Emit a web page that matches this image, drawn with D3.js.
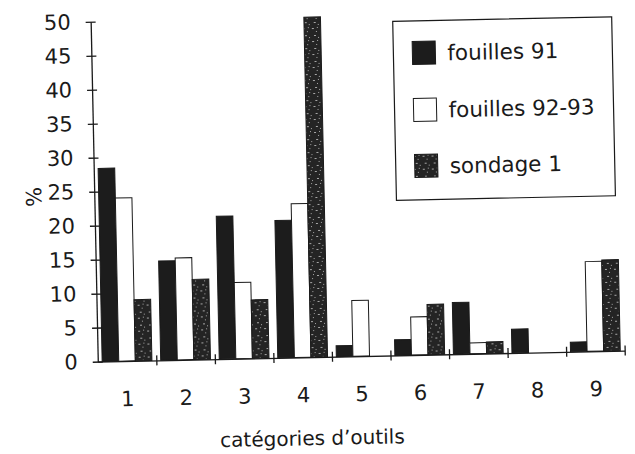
<!DOCTYPE html>
<html lang="fr">
  <head>
    <meta charset="UTF-8" />
    <script src="https://d3js.org/d3.v7.min.js"></script>
    <title>Catégories d'outils</title>
    <style>
      body { margin: 0; background: #fff; }
      svg text { font-family: "DejaVu Sans", sans-serif; fill: #1a1a1a; }
      .axis path, .axis line { stroke: #1a1a1a; stroke-width: 1.3; }
    </style>
  </head>
  <body>
    <svg width="635" height="454"></svg>
    <script>
      // données (%)
      const categories = ["1", "2", "3", "4", "5", "6", "7", "8", "9"];
      const series = ["fouilles 91", "fouilles 92-93", "sondage 1"];
      const fouilles91 = [28.4, 14.6, 21, 20.2, 1.6, 2.3, 7.6, 3.5, 1.4];
      const fouilles9293 = [24, 15, 11.2, 22.6, 8.2, 5.6, 1.6, 0, 13.2];
      const sondage1 = [9, 11.8, 8.6, 50, 0, 7.4, 1.7, 0, 13.4];
      const yTicks = [0, 5, 10, 15, 20, 25, 30, 35, 40, 45, 50];

      const values = [fouilles91, fouilles9293, sondage1];
      const fills = ["#1c1c1c", "#fff", "url(#speckle)"];

      const svg = d3.select("svg");

      // motif moucheté pour "sondage 1"
      const pat = svg.append("defs").append("pattern")
        .attr("id", "speckle")
        .attr("patternUnits", "userSpaceOnUse")
        .attr("width", 9).attr("height", 13);
      pat.append("rect").attr("width", 9).attr("height", 13).attr("fill", "#242424");
      [[1, 2, 2, 1], [5, 5, 1, 1], [3, 9, 2, 1], [7, 11, 1, 1], [6, 1, 1, 1]].forEach(s => {
        pat.append("rect").attr("x", s[0]).attr("y", s[1])
          .attr("width", s[2]).attr("height", s[3]).attr("fill", "#a8a8a8");
      });

      // la figure numérisée est légèrement penchée
      const g = svg.append("g").attr("transform", "rotate(-1.2 317 227)");

      const mLeft = 95, mRight = 622, mTop = 17, mBottom = 357;

      const y = d3.scaleLinear().domain([0, 50]).range([mBottom, mTop]);
      const x0 = d3.scaleBand().domain(categories).range([mLeft, mRight])
        .paddingInner(0.15).paddingOuter(0.075);
      const x1 = d3.scaleBand().domain(series).range([0, x0.bandwidth()]);
      const xLin = d3.scaleLinear().domain([0, categories.length]).range([mLeft, mRight]);

      // barres
      series.forEach((s, i) => {
        g.append("g").selectAll("rect")
          .data(categories.map((c, j) => ({ c, v: values[i][j] })).filter(d => d.v > 0))
          .join("rect")
          .attr("x", d => x0(d.c) + x1(s))
          .attr("y", d => y(d.v))
          .attr("width", x1.bandwidth())
          .attr("height", d => y(0) - y(d.v))
          .attr("fill", fills[i])
          .attr("stroke", "#1a1a1a")
          .attr("stroke-width", 1);
      });

      // axe Y
      const yAxis = g.append("g").attr("class", "axis")
        .attr("transform", `translate(${mLeft},0)`)
        .call(d3.axisLeft(y).tickValues(yTicks).tickSize(5).tickSizeOuter(0).tickPadding(15));
      yAxis.selectAll(".tick line").attr("x1", 5);
      yAxis.selectAll("text").style("font-size", "21px");

      // axe X : graduations entre les catégories
      const xAxis = g.append("g").attr("class", "axis")
        .attr("transform", `translate(0,${mBottom})`)
        .call(d3.axisBottom(xLin).tickValues(d3.range(1, categories.length + 1)).tickSize(5).tickSizeOuter(0).tickFormat(""));
      xAxis.selectAll(".tick line").attr("y1", -5);

      g.append("g").selectAll("text")
        .data(categories)
        .join("text")
        .attr("x", d => x0(d) + x0.bandwidth() / 2)
        .attr("y", 402)
        .attr("text-anchor", "middle")
        .style("font-size", "21px")
        .text(d => d);

      g.append("text")
        .attr("x", 308).attr("y", 445)
        .attr("text-anchor", "middle")
        .style("font-size", "20px")
        .text("catégories d’outils");

      g.append("text")
        .attr("transform", "translate(42,191) rotate(-90)")
        .attr("text-anchor", "middle")
        .style("font-size", "21px")
        .text("%");

      // légende
      const leg = g.append("g");
      leg.append("rect")
        .attr("x", 397).attr("y", 23).attr("width", 219).attr("height", 179)
        .attr("fill", "#fff").attr("stroke", "#1a1a1a").attr("stroke-width", 1.2);
      const rowY = [55, 112, 168];
      series.forEach((s, i) => {
        leg.append("rect")
          .attr("x", 416).attr("y", rowY[i] - 11.5)
          .attr("width", 23).attr("height", 23)
          .attr("fill", fills[i]).attr("stroke", "#1a1a1a");
        leg.append("text")
          .attr("x", 451).attr("y", rowY[i] + 8)
          .style("font-size", "21.5px")
          .text(s);
      });
    </script>
  </body>
</html>
